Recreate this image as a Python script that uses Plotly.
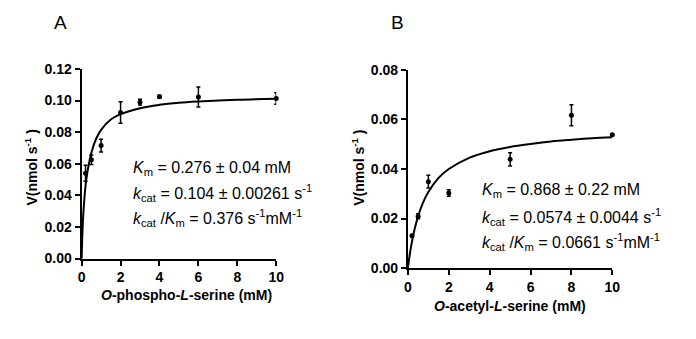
import plotly.graph_objects as go

W, H = 696, 339

# Panel A data: O-phospho-L-serine
a_x = [0.2, 0.5, 1, 2, 3, 4, 6, 10]
a_y = [0.054, 0.0625, 0.0715, 0.0925, 0.099, 0.1025, 0.1023, 0.1013]
a_err = [0.005, 0.003, 0.004, 0.0068, 0.0018, 0.0008, 0.0063, 0.0036]
a_fit_x = [0, 0.05, 0.1, 0.2, 0.3, 0.5, 0.75, 1, 1.5, 2, 3, 4, 5, 6, 8, 10]
a_fit_y = [0, 0.019, 0.031, 0.046, 0.055, 0.067, 0.076, 0.0815, 0.088, 0.0914,
           0.0952, 0.0973, 0.0986, 0.0994, 0.1005, 0.1012]

# Panel B data: O-acetyl-L-serine
b_x = [0.2, 0.5, 1, 2, 5, 8, 10]
b_y = [0.0131, 0.0209, 0.0349, 0.0303, 0.0439, 0.0617, 0.0538]
b_err = [0.0005, 0.001, 0.0026, 0.0013, 0.0027, 0.0042, 0.0003]
b_fit_x = [0, 0.1, 0.2, 0.35, 0.5, 0.75, 1, 1.5, 2, 3, 4, 5, 6, 7, 8, 9, 10]
b_fit_y = [0, 0.006, 0.0108, 0.0165, 0.021, 0.0266, 0.0307, 0.0364, 0.040,
           0.0445, 0.0472, 0.0489, 0.0501, 0.0511, 0.0518, 0.0524, 0.0528]

a_yticks = [0, 0.02, 0.04, 0.06, 0.08, 0.10, 0.12]
b_yticks = [0, 0.02, 0.04, 0.06, 0.08]
x_ticks = [0, 2, 4, 6, 8, 10]

a_text = ["<i>K</i><sub>m</sub> = 0.276 ± 0.04 mM",
          "<i>k</i><sub>cat</sub> = 0.104 ± 0.00261 s<sup>-1</sup>",
          "<i>k</i><sub>cat</sub> /<i>K</i><sub>m</sub> = 0.376 s<sup>-1</sup>mM<sup>-1</sup>"]
b_text = ["<i>K</i><sub>m</sub> = 0.868 ± 0.22 mM",
          "<i>k</i><sub>cat</sub> = 0.0574 ± 0.0044 s<sup>-1</sup>",
          "<i>k</i><sub>cat</sub> /<i>K</i><sub>m</sub> = 0.0661 s<sup>-1</sup>mM<sup>-1</sup>"]

FONT = "Liberation Sans, Arial, sans-serif"

def px_x(p):
    return p / W

def px_y(p):
    return 1 - p / H

fig = go.Figure()

for xs, ys, es, fx, fy, xa, ya in [
    (a_x, a_y, a_err, a_fit_x, a_fit_y, "x", "y"),
    (b_x, b_y, b_err, b_fit_x, b_fit_y, "x2", "y2"),
]:
    fig.add_trace(go.Scatter(x=fx, y=fy, mode="lines", line=dict(color="black", width=2, shape="spline", smoothing=1),
                             xaxis=xa, yaxis=ya, showlegend=False, hoverinfo="skip", cliponaxis=False))
    fig.add_trace(go.Scatter(x=xs, y=ys, mode="markers", marker=dict(color="black", size=5),
                             error_y=dict(type="data", array=es, visible=True, color="black", thickness=1.5, width=2),
                             xaxis=xa, yaxis=ya, showlegend=False, cliponaxis=False))

axis_common = dict(showline=True, linecolor="black", linewidth=2, ticks="outside", ticklen=5,
                   tickwidth=2, tickcolor="black", showgrid=False, zeroline=False,
                   tickfont=dict(family=FONT, size=14, color="black", weight="bold"))

fig.update_layout(
    width=W, height=H, autosize=False,
    margin=dict(l=0, r=0, t=0, b=0),
    plot_bgcolor="white", paper_bgcolor="white",
    xaxis=dict(domain=[px_x(79), px_x(277)], range=[0, 10], tickvals=x_ticks, anchor="y", **axis_common),
    yaxis=dict(domain=[px_y(263), px_y(64)], range=[0, 0.12], tickvals=a_yticks, tickformat=".2f",
               anchor="x", **axis_common),
    xaxis2=dict(domain=[px_x(411), px_x(619)], range=[0, 10], tickvals=x_ticks, anchor="y2", **axis_common),
    yaxis2=dict(domain=[px_y(273), px_y(65)], range=[0, 0.08], tickvals=b_yticks, tickformat=".2f",
                anchor="x2", **axis_common),
)

ann = []
# panel letters
ann.append(dict(text="A", x=px_x(57), y=px_y(15), font=dict(family=FONT, size=19, color="black")))
ann.append(dict(text="B", x=px_x(400), y=px_y(15), font=dict(family=FONT, size=19, color="black")))
# axis titles
bold14 = dict(family=FONT, size=14, color="black", weight="bold")
ann.append(dict(text="<i>O</i>-phospho-<i>L</i>-serine (mM)", x=px_x(186), y=px_y(301), font=bold14))
ann.append(dict(text="<i>O</i>-acetyl-<i>L</i>-serine (mM)", x=px_x(515), y=px_y(313), font=bold14))
ann.append(dict(text="V(nmol s<sup>-1</sup> )", x=px_x(28), y=px_y(168), textangle=-90, font=bold14))
ann.append(dict(text="V(nmol s<sup>-1</sup> )", x=px_x(360), y=px_y(168), textangle=-90, font=bold14))
# kinetic parameters
for i, t in enumerate(a_text):
    ann.append(dict(text=t, x=px_x(129), y=px_y(168 + 26 * i), xanchor="left",
                    font=dict(family=FONT, size=16, color="black")))
for i, t in enumerate(b_text):
    ann.append(dict(text=t, x=px_x(484), y=px_y(192 + 27 * i), xanchor="left",
                    font=dict(family=FONT, size=16, color="black")))

for a in ann:
    a.setdefault("xanchor", "center")
    a.setdefault("yanchor", "middle")
    a.update(xref="paper", yref="paper", showarrow=False)
fig.update_layout(annotations=ann)

fig.write_html("out.html")
